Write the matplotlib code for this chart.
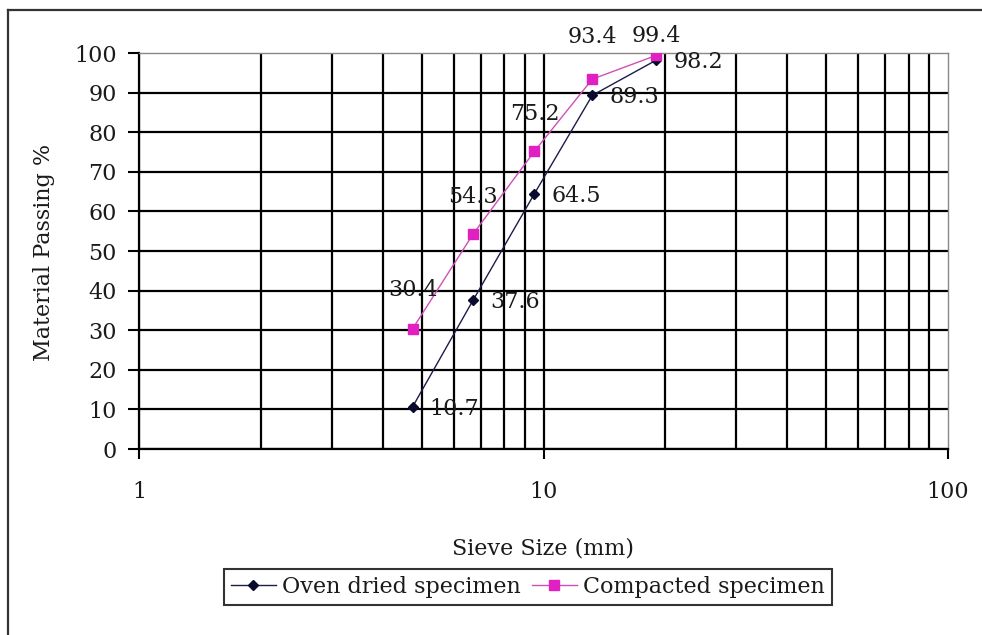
import matplotlib
matplotlib.use("Agg")
from matplotlib import pyplot as plt
from matplotlib.ticker import NullFormatter, FixedLocator
from matplotlib.lines import Line2D

# Sieve analysis data
sieve_mm = [4.75, 6.7, 9.5, 13.2, 19]
oven_dried = [10.7, 37.6, 64.5, 89.3, 98.2]
compacted = [30.4, 54.3, 75.2, 93.4, 99.4]
y_ticks = [0, 10, 20, 30, 40, 50, 60, 70, 80, 90, 100]
x_major = [1, 10, 100]
x_minor = [2, 3, 4, 5, 6, 7, 8, 9, 20, 30, 40, 50, 60, 70, 80, 90]

plt.rcParams['font.family'] = ['DejaVu Serif']
txt = '#1a1a1a'

fig = plt.figure(figsize=(9.82, 6.35), dpi=100)
ax = fig.add_axes([139/982, 1 - 449/635, (948 - 139)/982, (449 - 53)/635])

ax.set_xscale('log')
ax.set_xlim(1, 100)
ax.set_ylim(0, 100)

ax.xaxis.set_major_locator(FixedLocator(x_major))
ax.xaxis.set_minor_locator(FixedLocator(x_minor))
ax.xaxis.set_minor_formatter(NullFormatter())
ax.set_xticklabels([str(v) for v in x_major])
ax.set_yticks(y_ticks)

ax.tick_params(axis='x', which='major', direction='out', length=7, width=1.5,
               pad=16, labelsize=16, labelcolor=txt)
ax.tick_params(axis='x', which='minor', length=0)
ax.tick_params(axis='y', direction='out', length=8, width=1.5, pad=8,
               labelsize=16, labelcolor=txt)

ax.grid(which='both', axis='x', color='black', lw=1.6)
ax.grid(which='major', axis='y', color='black', lw=1.6)
ax.set_axisbelow(True)

for s in ['left', 'bottom']:
    ax.spines[s].set_color('black')
    ax.spines[s].set_linewidth(1.6)
for s in ['top', 'right']:
    ax.spines[s].set_color('#888888')
    ax.spines[s].set_linewidth(1.0)

ax.plot(sieve_mm, oven_dried, '-', color='#1c1c4a', lw=1.0, marker='D',
        markersize=5, markerfacecolor='#0a0a30', markeredgecolor='#0a0a30',
        label='Oven dried specimen', zorder=3)
ax.plot(sieve_mm, compacted, '-', color='#d050b8', lw=1.0, marker='s',
        markersize=7, markerfacecolor='#e020c0', markeredgecolor='#e020c0',
        label='Compacted specimen', zorder=3)

# data labels
for x, y in zip(sieve_mm, oven_dried):
    ax.annotate(str(y), (x, y), xytext=(17, -2), textcoords='offset pixels',
                ha='left', va='center', fontsize=16, color=txt, zorder=4)
compacted_dy = [39, 37, 37, 42, 19]
for x, y, dy in zip(sieve_mm, compacted, compacted_dy):
    ax.annotate(str(y), (x, y), xytext=(0, dy), textcoords='offset pixels',
                ha='center', va='center', fontsize=16, color=txt, zorder=4)

fig.draw_without_rendering()
for tick in ax.yaxis.get_major_ticks()[-1:]:
    tick.gridline.set_visible(False)
for tick in ax.xaxis.get_major_ticks()[-1:]:
    tick.gridline.set_visible(False)

fig.text(543/982, 1 - 548/635, 'Sieve Size (mm)', ha='center', va='center',
         fontsize=16, color=txt)
fig.text(44/982, 1 - 252/635, 'Material Passing %', ha='center', va='center',
         rotation=90, fontsize=16, color=txt)

leg = fig.legend(loc='center', bbox_to_anchor=(528/982, 1 - 587/635), ncol=2,
                 fontsize=16, frameon=True, fancybox=False, edgecolor='black',
                 handlelength=2.0, handletextpad=0.3, columnspacing=0.5,
                 borderpad=0.3, borderaxespad=0)
leg.get_frame().set_linewidth(1.5)
for t in leg.get_texts():
    t.set_color(txt)

# outer chart border (left and top edges visible)
fig.add_artist(Line2D([8/982, 8/982], [0, 1 - 10/635], transform=fig.transFigure,
                      color='#333333', lw=1.6))
fig.add_artist(Line2D([8/982, 1], [1 - 10/635, 1 - 10/635], transform=fig.transFigure,
                      color='#333333', lw=1.6))

fig.savefig('out.png', dpi=100)
